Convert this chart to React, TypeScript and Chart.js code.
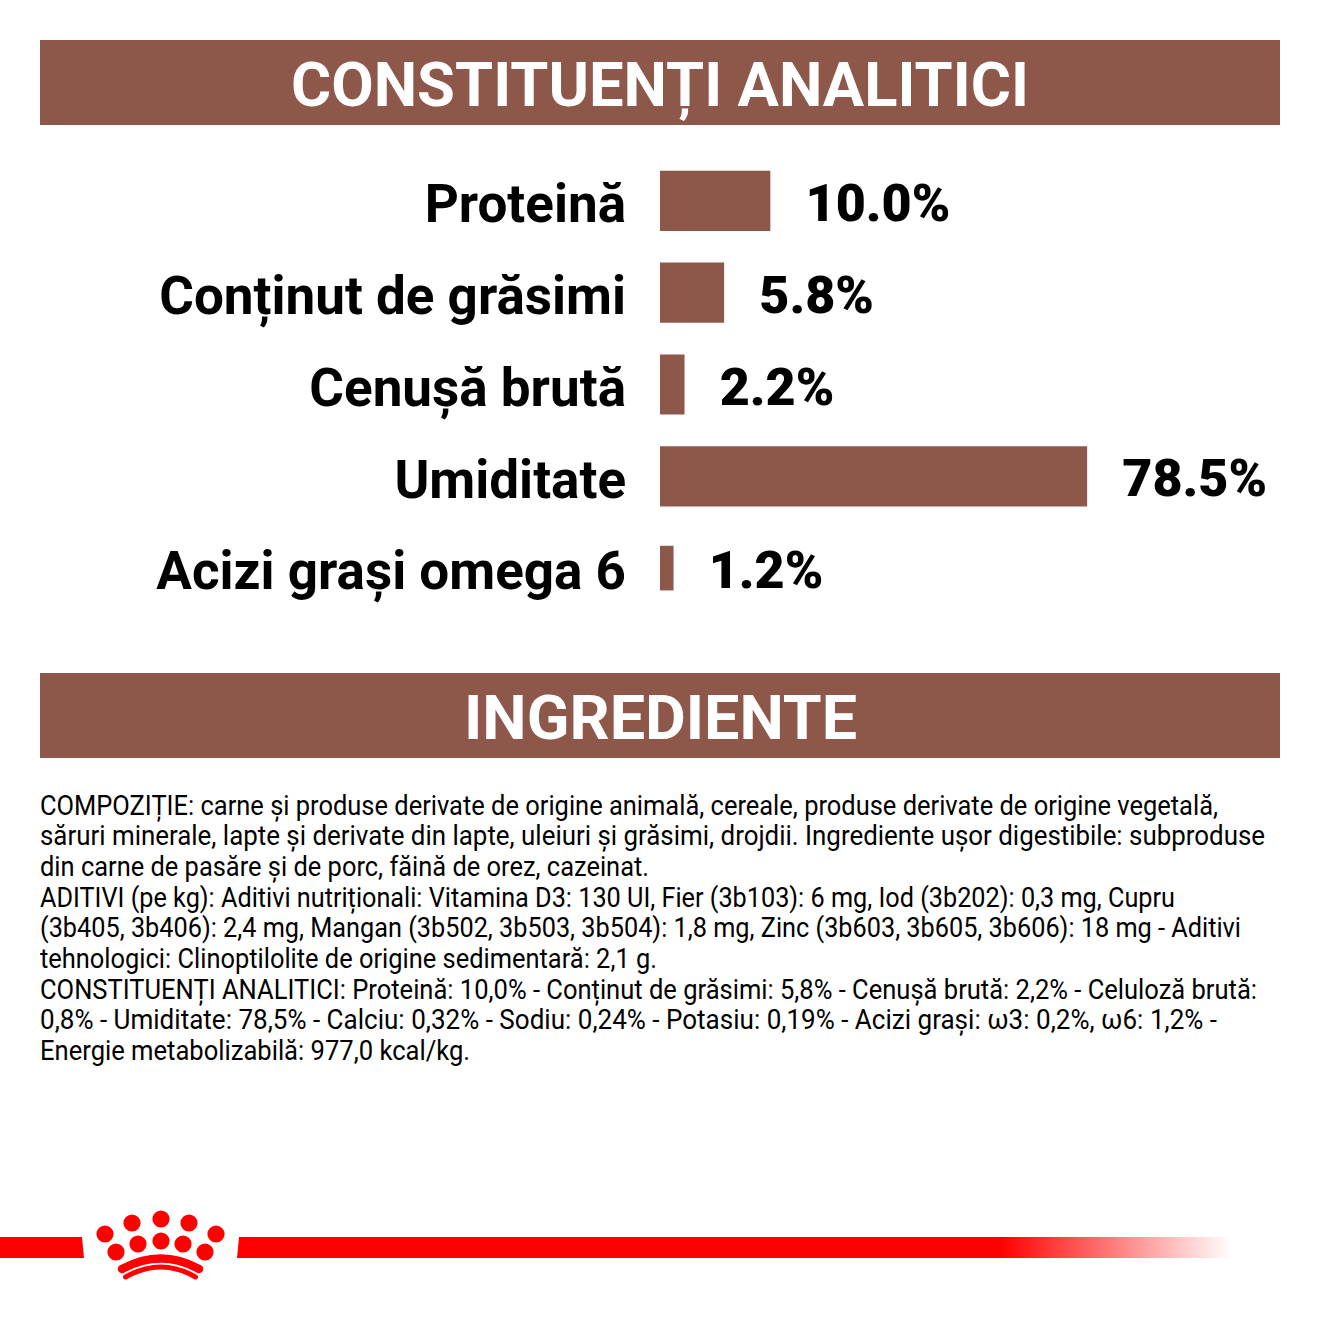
import React, { useEffect, useLayoutEffect, useRef } from "react";
import { Chart, registerables } from "chart.js";

Chart.register(...registerables);

const categories = ["Proteină", "Conținut de grăsimi", "Cenușă brută", "Umiditate", "Acizi grași omega 6"];
// Bar lengths as drawn in the picture (moisture is drawn on a shortened scale; omega 6 is a thinner bar)
const mainBarLengths = [10, 5.8, 2.2, 38.8, null];
const thinBarLengths = [null, null, null, null, 1.2];
const valueLabels = ["10.0%", "5.8%", "2.2%", "78.5%", "1.2%"];
const headers = ["CONSTITUENȚI ANALITICI", "INGREDIENTE"];
const paragraphLines = [
  "COMPOZIȚIE: carne și produse derivate de origine animală, cereale, produse derivate de origine vegetală,",
  "săruri minerale, lapte și derivate din lapte, uleiuri și grăsimi, drojdii. Ingrediente ușor digestibile: subproduse",
  "din carne de pasăre și de porc, făină de orez, cazeinat.",
  "ADITIVI (pe kg): Aditivi nutriționali: Vitamina D3: 130 UI, Fier (3b103): 6 mg, Iod (3b202): 0,3 mg, Cupru",
  "(3b405, 3b406): 2,4 mg, Mangan (3b502, 3b503, 3b504): 1,8 mg, Zinc (3b603, 3b605, 3b606): 18 mg - Aditivi",
  "tehnologici: Clinoptilolite de origine sedimentară: 2,1 g.",
  "CONSTITUENȚI ANALITICI: Proteină: 10,0% - Conținut de grăsimi: 5,8% - Cenușă brută: 2,2% - Celuloză brută:",
  "0,8% - Umiditate: 78,5% - Calciu: 0,32% - Sodiu: 0,24% - Potasiu: 0,19% - Acizi grași: ω3: 0,2%, ω6: 1,2% -",
  "Energie metabolizabilă: 977,0 kcal/kg.",
];
const paragraphRightEdges = [1218, 1265, 649, 1175, 1241, 657, 1257, 1217, 470];
const paragraphCentres = [806, 836, 867, 898, 928, 959, 990, 1020, 1051];

const BROWN = "#8d574a";
const RED = "#ff0000";
const FONT = "Roboto, sans-serif";

function FitLine(props: { text: string; left: number; right: number; centre: number; size: number; weight: number; colour: string }) {
  const ref = useRef<HTMLSpanElement>(null);
  useLayoutEffect(() => {
    const el = ref.current!;
    el.style.transform = "none";
    const natural = el.getBoundingClientRect().width;
    el.style.transform = `scaleX(${(props.right - props.left) / natural})`;
  }, []);
  const lh = props.size * 1.2;
  return (
    <span
      ref={ref}
      style={{
        position: "absolute",
        left: props.left,
        top: props.centre - lh / 2,
        lineHeight: `${lh}px`,
        fontSize: props.size,
        fontWeight: props.weight,
        fontFamily: FONT,
        color: props.colour,
        whiteSpace: "nowrap",
        transformOrigin: "left center",
      }}
    >
      {props.text}
    </span>
  );
}

const valueLabelPlugin = {
  id: "valueLabels",
  afterDatasetsDraw(chart: any) {
    const ctx = chart.ctx;
    ctx.save();
    ctx.font = `900 52px ${FONT}`;
    ctx.fillStyle = "#000000";
    ctx.textAlign = "left";
    ctx.textBaseline = "middle";
    valueLabels.forEach((label, i) => {
      const ds = mainBarLengths[i] != null ? 0 : 1;
      const bar = chart.getDatasetMeta(ds).data[i];
      ctx.fillText(label, bar.x + 35.5, bar.y + 7);
    });
    ctx.restore();
  },
};

export default function App() {
  const canvasRef = useRef<HTMLCanvasElement>(null);
  useEffect(() => {
    const chart = new Chart(canvasRef.current!, {
      type: "bar",
      data: {
        labels: categories,
        datasets: [
          { data: mainBarLengths, backgroundColor: BROWN, barThickness: 59.5, borderWidth: 0, grouped: false },
          { data: thinBarLengths, backgroundColor: BROWN, barThickness: 44, borderWidth: 0, grouped: false },
        ],
      },
      plugins: [valueLabelPlugin],
      options: {
        indexAxis: "y",
        animation: false,
        responsive: false,
        devicePixelRatio: 1,
        layout: { padding: 0 },
        plugins: { legend: { display: false }, tooltip: { enabled: false }, title: { display: false } },
        scales: {
          x: { display: false, min: 0, max: 60 },
          y: {
            afterFit(axis: any) {
              axis.width = 660;
              axis.paddingTop = 0;
              axis.paddingBottom = 0;
            },
            grid: { display: false, drawTicks: false },
            border: { display: false },
            ticks: {
              color: "#000000",
              padding: 34,
              autoSkip: false,
              // an empty first line moves each label down by half the line height
              callback(this: any, value: any) { return ["", this.getLabelForValue(value)]; },
              font: { family: FONT, size: 53, weight: 700, lineHeight: "16px" },
            },
          },
        },
      },
    });
    return () => chart.destroy();
  }, []);

  return (
    <div style={{ position: "absolute", left: 0, top: 0, width: 1320, height: 1320, background: "#fff", overflow: "hidden" }}>
      <div style={{ position: "absolute", left: 40, top: 40, width: 1240, height: 85, background: BROWN }} />
      <div style={{ position: "absolute", left: 40, top: 673, width: 1240, height: 85, background: BROWN }} />
      <FitLine text={headers[0]} left={291} right={1029} centre={85} size={62} weight={700} colour="#fff" />
      <FitLine text={headers[1]} left={464} right={857} centre={718} size={62} weight={700} colour="#fff" />
      <canvas ref={canvasRef} width={1320} height={459} style={{ position: "absolute", left: 0, top: 155, width: 1320, height: 459 }} />
      {paragraphLines.map((t, i) => (
        <FitLine key={i} text={t} left={40} right={paragraphRightEdges[i]} centre={paragraphCentres[i]} size={27} weight={400} colour="#000" />
      ))}
      <svg width={1320} height={120} viewBox="0 1200 1320 120" style={{ position: "absolute", left: 0, top: 1200 }}>
        <defs>
          <linearGradient id="fade" gradientUnits="userSpaceOnUse" x1={1000} x2={1232} y1={0} y2={0}>
            <stop offset="0" stopColor={RED} />
            <stop offset="1" stopColor={RED} stopOpacity="0" />
          </linearGradient>
        </defs>
        <path d="M0 1237H82Q83 1248 84 1258H0Z" fill={RED} />
        <path d="M239 1237H1000V1258H237Q238 1248 239 1237Z" fill={RED} />
        <rect x={1000} y={1237} width={232} height={21} fill="url(#fade)" />
        {[[105, 1234], [116, 1252], [132, 1223], [138, 1244], [161, 1219], [161, 1241], [189, 1223], [183, 1244], [216, 1234], [205, 1252]].map(([cx, cy], i) => (
          <circle key={i} cx={cx} cy={cy} r={8.6} fill={RED} />
        ))}
        <path d="M122 1269Q161 1248 199 1269" stroke={RED} strokeWidth={8.5} strokeLinecap="round" fill="none" />
        <path d="M125.500 1277Q161 1257 195.500 1277" stroke={RED} strokeWidth={5} strokeLinecap="round" fill="none" />
      </svg>
    </div>
  );
}
